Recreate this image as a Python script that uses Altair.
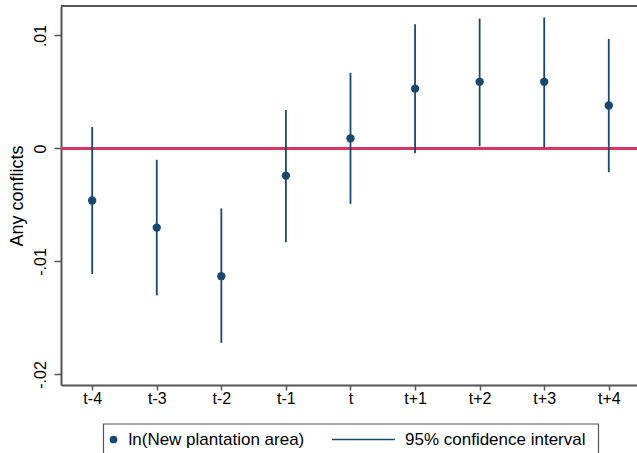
import altair as alt
import pandas as pd

# Event-study estimates: coefficient and 95% confidence bounds by period
periods = ["t-4", "t-3", "t-2", "t-1", "t", "t+1", "t+2", "t+3", "t+4"]
coef = [-0.0046, -0.0070, -0.0113, -0.0024, 0.0009, 0.0053, 0.0059, 0.0059, 0.0038]
ci_low = [-0.0111, -0.0130, -0.0172, -0.0083, -0.0049, -0.0004, 0.0002, 0.0001, -0.0021]
ci_high = [0.0019, -0.0010, -0.0053, 0.0034, 0.0067, 0.0110, 0.0115, 0.0116, 0.0097]
y_ticks = [-0.02, -0.01, 0.0, 0.01]
legend_labels = ["ln(New plantation area)", "95% confidence interval"]

NAVY = "#1a476f"
RED = "#d8365e"
FRAME = "#555555"
FONT = "Liberation Sans"
W, H = 576, 379

df = pd.DataFrame({"period": periods, "coef": coef, "lo": ci_low, "hi": ci_high})

x_scale = alt.Scale(type="point", padding=0.46, align=0.525)
x_axis = alt.Axis(title=None, labelAngle=0, tickSize=5, labelPadding=0.5,
                  labelBaseline="top", labelFontSize=16)
y_scale = alt.Scale(domain=[-0.02093, 0.01261], nice=False, zero=False)
y_axis = alt.Axis(
    title="Any conflicts",
    values=y_ticks,
    labelExpr="datum.value == 0 ? '0' : (datum.value < 0 ? '-' : '') + replace(format(abs(datum.value), '.2f'), '0.', '.')",
    labelAngle=270, labelAlign="center", labelBaseline="alphabetic",
    tickSize=7, labelPadding=9, labelFontSize=16,
    titleFontSize=18, titleFontWeight="normal", titleAngle=270,
    titleBaseline="alphabetic", titleAlign="center", titleX=-39, titleY=H / 2,
)

base = alt.Chart(df)

ci = base.mark_rule(color=NAVY, strokeWidth=1.8).encode(
    x=alt.X("period:O", sort=periods, scale=x_scale, axis=x_axis),
    y=alt.Y("lo:Q", scale=y_scale, axis=y_axis),
    y2="hi:Q",
)
zero = base.mark_rule(color=RED, strokeWidth=1.8).encode(y=alt.datum(0))
pts = base.mark_circle(color=NAVY, size=70, opacity=1).encode(
    x=alt.X("period:O", sort=periods, scale=x_scale, axis=x_axis),
    y=alt.Y("coef:Q", scale=y_scale, axis=y_axis),
)

# top edge of the plot frame
top_edge = base.mark_rule(color=FRAME, strokeWidth=2).encode(
    x=alt.value(0), x2=alt.value(W), y=alt.value(0)
)

# legend box below the axis
leg = pd.DataFrame({"label": legend_labels})
leg_box = alt.Chart(leg.head(1)).mark_rect(
    fill="white", stroke=FRAME, strokeWidth=1.2
).encode(x=alt.value(42.5), x2=alt.value(537.5), y=alt.value(418), y2=alt.value(460))
leg_dot = alt.Chart(leg.head(1)).mark_circle(color=NAVY, size=60, opacity=1).encode(
    x=alt.value(52.5), y=alt.value(433.5)
)
leg_line = alt.Chart(leg.head(1)).mark_rule(color=NAVY, strokeWidth=1.5).encode(
    x=alt.value(271), x2=alt.value(334), y=alt.value(433.5)
)
leg_text1 = alt.Chart(leg.iloc[[0]]).mark_text(
    align="left", baseline="middle", font=FONT, fontSize=17, color="black"
).encode(text="label:N", x=alt.value(67.5), y=alt.value(434))
leg_text2 = alt.Chart(leg.iloc[[1]]).mark_text(
    align="left", baseline="middle", font=FONT, fontSize=17, color="black"
).encode(text="label:N", x=alt.value(344), y=alt.value(434))

chart = alt.layer(
    zero, ci, pts, top_edge, leg_box, leg_dot, leg_line, leg_text1, leg_text2
).properties(
    width=W, height=H,
    autosize=alt.AutoSizeParams(type="none"),
    padding={"left": 61, "top": 6, "right": 0, "bottom": 68},
    background="white",
).configure_view(
    stroke=None
).configure_axis(
    labelFont=FONT, titleFont=FONT, labelColor="black", titleColor="black",
    labelFontSize=16, tickColor=FRAME, tickWidth=1.5, domainColor=FRAME,
    domainWidth=2, grid=False,
)

chart.save("out.html", embed_options={"renderer": "svg", "actions": False})
